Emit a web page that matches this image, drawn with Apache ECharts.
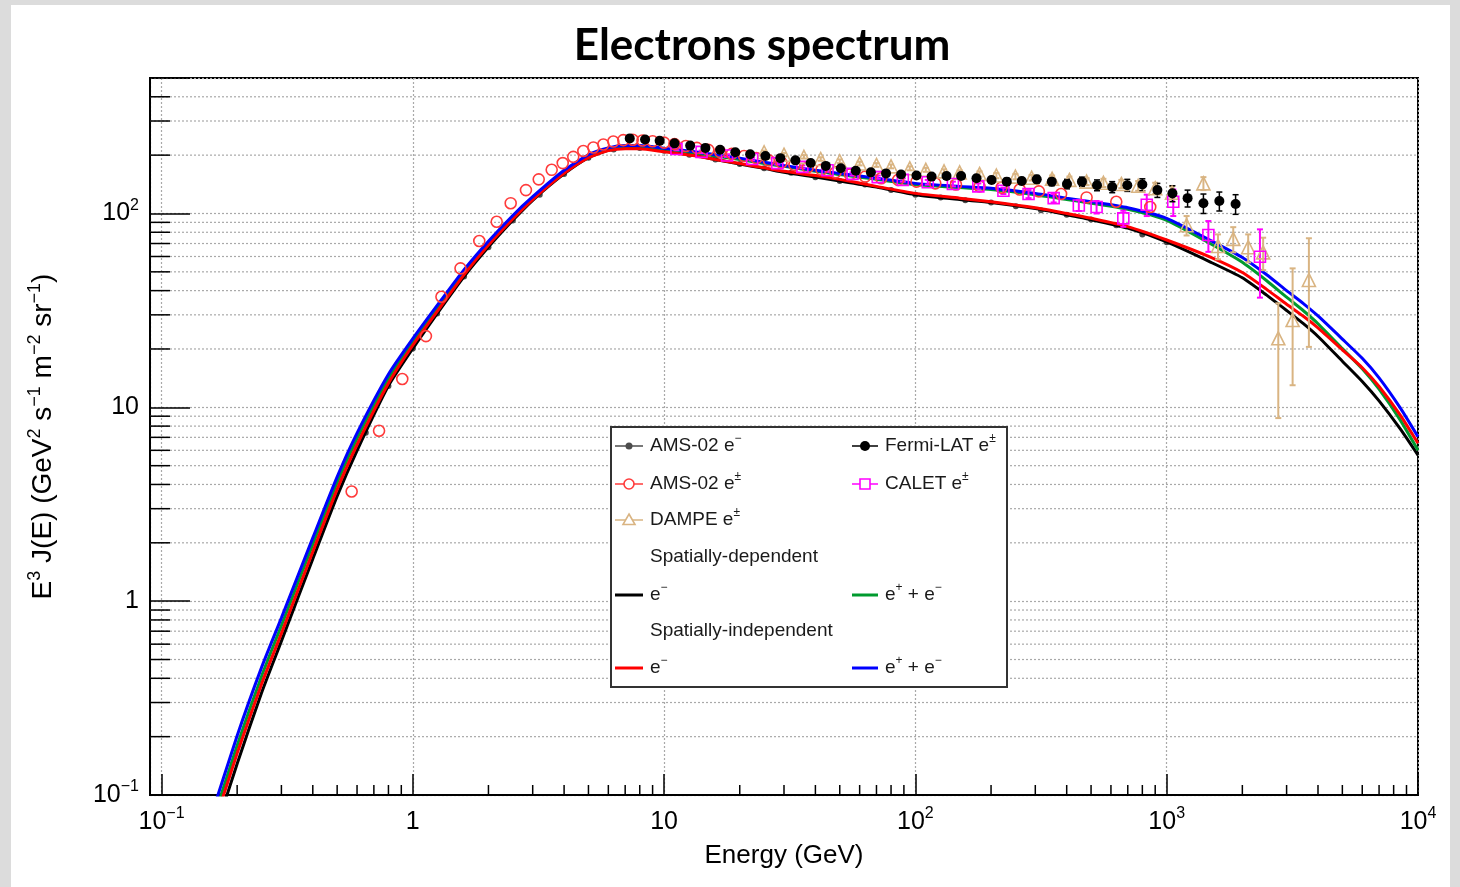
<!DOCTYPE html>
<html>
<head>
<meta charset="utf-8">
<script src="https://cdn.jsdelivr.net/npm/echarts@6.0.0/dist/echarts.min.js"></script>
<style>
html,body{margin:0;padding:0;width:1460px;height:887px;overflow:hidden;background:#dcdcdc}
#panel{position:absolute;left:11px;top:5px;width:1439px;height:882px;background:#fff}
#chart{position:absolute;left:0;top:0;width:1460px;height:887px}
</style>
</head>
<body>
<div id="panel"></div>
<div id="chart"></div>
<script>
// ---------------- DATA ----------------
const energyGrid = [0.15, 0.2, 0.25, 0.3, 0.4, 0.5, 0.6, 0.8, 1, 1.3, 1.6, 2, 2.5, 3, 4, 5, 6, 7, 8, 10, 13, 16, 20, 25, 30, 40, 50, 70, 100, 150, 200, 300, 400, 500, 700, 1000, 1500, 2000, 2500, 3000, 3500, 4000, 5000, 6000, 7000, 8500, 10000];
// Spatially-dependent e- (black)
const sdElectron = [0.0457, 0.145, 0.336, 0.622, 1.65, 3.48, 5.98, 12.9, 20.1, 32.7, 47.3, 67.1, 92.2, 117, 160, 194, 212, 218, 218, 210, 200, 190, 180, 171, 163, 154, 147, 137, 125, 118, 114, 106, 98.6, 93.0, 84.0, 71.3, 56.0, 46.6, 37.9, 31.6, 27.0, 23.2, 17.3, 13.6, 10.8, 7.74, 5.67];
// Spatially-dependent e+ + e- (green)
const sdTotal = [0.0568, 0.180, 0.409, 0.748, 1.96, 4.09, 6.90, 14.1, 21.8, 34.9, 50.0, 70.3, 95.9, 120, 165, 199, 216, 222, 222, 215, 206, 198, 190, 181, 175, 165, 159, 150, 141, 136, 133, 125, 118, 113, 105, 92.2, 69.6, 56.0, 45.0, 37.0, 31.5, 27.0, 20.1, 15.8, 12.4, 8.59, 6.01];
// Spatially-independent e- (red)
const siElectron = [0.0518, 0.164, 0.373, 0.682, 1.80, 3.77, 6.41, 13.3, 20.9, 33.5, 48.4, 68.7, 93.7, 118, 161, 194, 211, 216, 216, 208, 199, 190, 181, 172, 165, 157, 150, 138, 127, 120, 115, 107, 100, 94.5, 85.6, 73.0, 59.4, 49.6, 40.6, 34.0, 29.5, 25.7, 19.8, 16.0, 12.8, 9.11, 6.52];
// Spatially-independent e+ + e- (blue)
const siTotal = [0.0637, 0.202, 0.454, 0.820, 2.12, 4.38, 7.36, 14.8, 22.6, 35.9, 51.3, 71.9, 97.7, 122, 167, 201, 218, 224, 224, 217, 209, 201, 193, 184, 177, 167, 161, 152, 143, 138, 135, 127, 120, 115, 107, 94.4, 72.4, 59.3, 48.3, 40.0, 34.3, 29.6, 22.5, 17.9, 14.2, 9.94, 7.05];

// AMS-02 e-
const amsElE = [0.65, 0.8, 1.0, 1.25, 1.6, 2.0, 2.5, 3.2, 4.0, 5.0, 6.3, 8.0, 10, 12.6, 16, 20, 25, 32, 40, 50, 63, 80, 100, 126, 158, 200, 251, 316, 400, 500, 630, 800, 1000];
const amsElF = [7.4, 12.9, 20.1, 30.5, 47.3, 67, 92, 125, 160, 194, 214, 218, 211, 201, 190, 180, 171, 162, 154, 147, 141, 132, 125, 121, 117, 114, 109, 104, 98.6, 93, 87, 78, 71];

// AMS-02 e+-
const amsAllE = [0.571, 0.734, 0.908, 1.128, 1.30, 1.548, 1.839, 2.157, 2.452, 2.82, 3.17, 3.57, 3.95, 4.35, 4.77, 5.23, 5.73, 6.28, 6.88, 7.5, 8.2, 9.0, 10.0, 11.0, 12.2, 13.5, 15.0, 16.7, 18.6, 20.8, 23.3, 26.1, 29.3, 33.0, 37.3, 42.3, 48.1, 54.9, 63.1, 73.1, 85.4, 101, 120, 145, 180, 220, 260, 310, 380, 480, 630, 860];
const amsAllF = [3.68, 7.57, 14.0, 23.3, 37.2, 52.1, 72.1, 90.7, 113, 132, 150, 168, 182, 196, 210, 219, 227, 235, 239, 240, 238, 236, 232, 228, 223, 218, 213, 208, 203, 198, 193, 188, 183, 178, 173, 168, 163, 159, 155, 152, 149, 146, 143, 141, 138, 136, 133, 130, 126, 121, 115, 108];

// Fermi-LAT e+-
const fermiE = [7.3, 8.4, 9.6, 11.0, 12.7, 14.6, 16.7, 19.2, 22.0, 25.3, 29.0, 33.3, 38.3, 44.0, 50.5, 57.9, 66.5, 76.4, 87.7, 101, 116, 133, 152, 175, 201, 231, 265, 304, 349, 401, 460, 528, 607, 697, 800, 918, 1054, 1211, 1400, 1620, 1880];
const fermiF = [244, 241, 237, 230, 224, 218, 213, 207, 202, 198, 193, 188, 182, 176, 171, 166, 163, 161, 159, 157, 155, 156, 156, 152, 149, 146, 147, 150, 146, 142, 146, 140, 137, 140, 141, 132, 127, 120, 113, 116, 112];
const fermiErr = [5, 5, 5, 5, 4, 4, 4, 4, 4, 4, 4, 4, 4, 4, 4, 4, 4, 4, 4, 4, 5, 5, 5, 5, 6, 6, 6, 7, 7, 8, 8, 9, 9, 10, 10, 11, 12, 12, 13, 13, 13];

// CALET e+-
const caletE = [11.2, 14.1, 17.8, 22.4, 28.2, 35.5, 44.7, 56.2, 70.8, 89.1, 112, 141, 178, 224, 282, 355, 447, 526, 672, 833, 1062, 1465, 2350];
const caletF = [215, 208, 199, 191, 182, 174, 167, 160, 154, 149, 145, 142, 138, 131, 126, 120, 110, 108, 94.4, 111, 115, 77.4, 59.8];
const caletErr = [3, 3, 3, 3, 3, 3, 3, 3, 3, 3, 4, 4, 5, 5, 6, 6, 7, 8, 9, 14, 18, 14, 23];

// DAMPE e+-
const dampeE = [25, 30, 36, 42, 50, 60, 70, 80, 95, 110, 130, 150, 180, 210, 250, 290, 350, 410, 480, 560, 660, 770, 900, 1050, 1200, 1400, 1600, 1840, 2110, 2420, 2780, 3170, 3680];
const dampeF = [207, 201, 196, 191, 186, 181, 178, 175, 171, 168, 165, 163, 160, 157, 155, 153, 151, 149, 146, 144, 142, 139, 135, 128, 87, 143, 68, 74, 67, 63, 22.7, 28.2, 45.4];
const dampeErrLo = [4, 4, 4, 4, 4, 4, 4, 4, 4, 4, 4, 4, 5, 5, 5, 5, 6, 6, 6, 7, 7, 8, 9, 10, 10, 11, 10, 11, 11, 12, 13.9, 15.2, 24.9];
const dampeErrHi = [4, 4, 4, 4, 4, 4, 4, 4, 4, 4, 4, 4, 5, 5, 5, 5, 6, 6, 6, 7, 7, 8, 9, 10, 10, 11, 10, 11, 11, 12, 11.7, 23.9, 29.1];

// Axes
const xMin = 0.09, xMax = 10000, yMin = 0.1, yMax = 500;
const xTickValues = [0.1, 1, 10, 100, 1000, 10000];
const xTickLabels = ['{b|10}{s|−1}', '{b|1}', '{b|10}', '{b|10}{s|2}', '{b|10}{s|3}', '{b|10}{s|4}'];
const yTickValues = [0.1, 1, 10, 100];
const yTickLabels = ['{b|10}{s|−1}', '{b|1}', '{b|10}', '{b|10}{s|2}'];
const minorMultipliers = [2, 3, 4, 5, 6, 7, 8, 9];
const xDecades = [0.1, 1, 10, 100, 1000];
const yDecades = [0.1, 1, 10, 100];

// ---------------- CHART ----------------
const FONT = "'Liberation Sans', Arial, Helvetica, sans-serif";
const xMinorValues = [];
xDecades.forEach(d => minorMultipliers.forEach(m => xMinorValues.push(m * d)));
const yMinorValues = [];
yDecades.forEach(d => minorMultipliers.forEach(m => { if (m * d < yMax) yMinorValues.push(m * d); }));

function tickFormatter(values, labels) {
  return function (v) {
    for (let i = 0; i < values.length; i++) {
      if (Math.abs(Math.log10(v) - Math.log10(values[i])) < 1e-6) return labels[i];
    }
    return '';
  };
}

const labelRich = {
  b: { fontSize: 25, fontFamily: FONT, color: '#000', lineHeight: 32, verticalAlign: 'middle' },
  s: { fontSize: 16, fontFamily: FONT, color: '#000', lineHeight: 32, verticalAlign: 'top' }
};
const nameRich = {
  b: { fontSize: 28, fontFamily: FONT, color: '#000', lineHeight: 34, verticalAlign: 'middle' },
  s: { fontSize: 18, fontFamily: FONT, color: '#000', lineHeight: 34, verticalAlign: 'top' }
};

const GRID_COLOR = '#a9a9a9';

function curve(name, values, color) {
  return {
    type: 'line', name, data: energyGrid.map((e, i) => [e, values[i]]),
    showSymbol: false, symbol: 'none', smooth: 0.2, clip: true,
    lineStyle: { color, width: 3 }, itemStyle: { color }, silent: true, z: 3
  };
}

function errorBars(name, E, F, lo, hi, color, cap, width) {
  return {
    type: 'custom', name, silent: true, clip: true, z: 4,
    data: E.map((e, i) => [e, F[i] - lo[i], F[i] + hi[i]]),
    encode: { x: 0, y: [1, 2] },
    renderItem(params, api) {
      const a = api.coord([api.value(0), api.value(1)]);
      const b = api.coord([api.value(0), api.value(2)]);
      const st = { stroke: color, lineWidth: width };
      return {
        type: 'group', children: [
          { type: 'line', shape: { x1: a[0], y1: a[1], x2: b[0], y2: b[1] }, style: st },
          { type: 'line', shape: { x1: a[0] - cap, y1: a[1], x2: a[0] + cap, y2: a[1] }, style: st },
          { type: 'line', shape: { x1: b[0] - cap, y1: b[1], x2: b[0] + cap, y2: b[1] }, style: st }
        ]
      };
    }
  };
}

function points(name, E, F, symbol, size, fill, stroke, bw, z) {
  return {
    type: 'scatter', name, data: E.map((e, i) => [e, F[i]]), symbol, symbolSize: size, clip: true, z: z || 5,
    itemStyle: { color: fill, borderColor: stroke, borderWidth: bw, opacity: 1 }, silent: true
  };
}

const series = [
  { // horizontal minor grid + minor ticks on y
    type: 'custom', silent: true, z: 1,
    data: yMinorValues.map(v => [1, v]),
    renderItem(params, api) {
      const cs = params.coordSys;
      const y = api.coord([1, api.value(1)])[1];
      return {
        type: 'group', children: [
          { type: 'line', shape: { x1: cs.x, y1: y, x2: cs.x + cs.width, y2: y }, style: { stroke: GRID_COLOR, lineWidth: 1.2, lineDash: [2, 2] } },
          { type: 'line', shape: { x1: cs.x, y1: y, x2: cs.x + 20, y2: y }, style: { stroke: '#000', lineWidth: 1.5 } }
        ]
      };
    }
  },
  { // minor ticks on x
    type: 'custom', silent: true, z: 1,
    data: xMinorValues.map(v => [v, 1]),
    renderItem(params, api) {
      const cs = params.coordSys;
      const x = api.coord([api.value(0), 1])[0];
      const yb = cs.y + cs.height;
      return { type: 'line', shape: { x1: x, y1: yb, x2: x, y2: yb - 10 }, style: { stroke: '#000', lineWidth: 1.5 } };
    }
  },
  points('AMS-02 e-', amsElE, amsElF, 'circle', 6, '#4d4d4d', '#4d4d4d', 0, 2),
  curve('Spatially-dependent e-', sdElectron, '#000000'),
  curve('Spatially-dependent e+ + e-', sdTotal, '#009a2e'),
  curve('Spatially-independent e-', siElectron, '#ff0000'),
  curve('Spatially-independent e+ + e-', siTotal, '#0000ff'),
  points('AMS-02 e±', amsAllE, amsAllF, 'circle', 11, 'rgba(0,0,0,0)', '#ff3b3b', 1.6),
  errorBars('DAMPE err', dampeE, dampeF, dampeErrLo, dampeErrHi, '#d9b482', 3, 2),
  points('DAMPE e±', dampeE, dampeF, 'triangle', 13, 'rgba(0,0,0,0)', '#d9b482', 1.6),
  errorBars('CALET err', caletE, caletF, caletErr, caletErr, '#ff00ff', 3, 2),
  points('CALET e±', caletE, caletF, 'rect', 11, 'rgba(0,0,0,0)', '#ff00ff', 1.6),
  errorBars('Fermi err', fermiE, fermiF, fermiErr, fermiErr, '#000000', 3, 1.5),
  points('Fermi-LAT e±', fermiE, fermiF, 'circle', 10, '#000000', '#000000', 0)
];

// ---------------- LEGEND (graphic) ----------------
const legRich = {
  t: { fontSize: 19, fontFamily: FONT, fill: '#1a1a1a', color: '#1a1a1a', lineHeight: 26, verticalAlign: 'middle' },
  s: { fontSize: 12, fontFamily: FONT, fill: '#1a1a1a', color: '#1a1a1a', lineHeight: 26, verticalAlign: 'top' }
};
const rows = [446, 484, 520, 557, 595, 631, 668];
const colL = { x1: 615, x2: 643, cx: 629, tx: 650 };
const colR = { x1: 852, x2: 878, cx: 865, tx: 885 };
const legendEntries = [
  { col: colL, row: 0, text: '{t|AMS-02 e}{s|−}', line: '#4d4d4d', marker: 'dot', mcolor: '#4d4d4d', r: 3.5 },
  { col: colR, row: 0, text: '{t|Fermi-LAT e}{s|±}', line: '#000', marker: 'dot', mcolor: '#000', r: 5 },
  { col: colL, row: 1, text: '{t|AMS-02 e}{s|±}', line: '#ff3b3b', marker: 'ocircle', mcolor: '#ff3b3b', r: 5 },
  { col: colR, row: 1, text: '{t|CALET e}{s|±}', line: '#ff00ff', marker: 'osquare', mcolor: '#ff00ff', r: 5 },
  { col: colL, row: 2, text: '{t|DAMPE e}{s|±}', line: '#d9b482', marker: 'otri', mcolor: '#d9b482', r: 6 },
  { col: colL, row: 3, text: '{t|Spatially-dependent}' },
  { col: colL, row: 4, text: '{t|e}{s|−}', line: '#000', lw: 3 },
  { col: colR, row: 4, text: '{t|e}{s|+}{t| + e}{s|−}', line: '#009a2e', lw: 3 },
  { col: colL, row: 5, text: '{t|Spatially-independent}' },
  { col: colL, row: 6, text: '{t|e}{s|−}', line: '#ff0000', lw: 3 },
  { col: colR, row: 6, text: '{t|e}{s|+}{t| + e}{s|−}', line: '#0000ff', lw: 3 }
];
const graphics = [
  { type: 'text', x: 762, y: 46, z: 100, style: { text: 'Electrons spectrum', font: "bold 44px Lato, 'Open Sans', sans-serif", fill: '#000', align: 'center', verticalAlign: 'middle' } },
  { type: 'rect', shape: { x: 611, y: 427, width: 396, height: 260 }, z: 100, style: { fill: '#fff', stroke: '#333', lineWidth: 2 } }
];
legendEntries.forEach(en => {
  const y = rows[en.row];
  if (en.line) {
    graphics.push({ type: 'line', z: 101, shape: { x1: en.col.x1, y1: y, x2: en.col.x2, y2: y }, style: { stroke: en.line, lineWidth: en.lw || 1.5 } });
  }
  if (en.marker === 'dot') {
    graphics.push({ type: 'circle', z: 102, shape: { cx: en.col.cx, cy: y, r: en.r }, style: { fill: en.mcolor } });
  } else if (en.marker === 'ocircle') {
    graphics.push({ type: 'circle', z: 102, shape: { cx: en.col.cx, cy: y, r: en.r }, style: { fill: '#fff', stroke: en.mcolor, lineWidth: 1.6 } });
  } else if (en.marker === 'osquare') {
    graphics.push({ type: 'rect', z: 102, shape: { x: en.col.cx - en.r, y: y - en.r, width: 2 * en.r, height: 2 * en.r }, style: { fill: '#fff', stroke: en.mcolor, lineWidth: 1.6 } });
  } else if (en.marker === 'otri') {
    graphics.push({ type: 'polygon', z: 102, shape: { points: [[en.col.cx, y - en.r], [en.col.cx + en.r, y + en.r * 0.75], [en.col.cx - en.r, y + en.r * 0.75]] }, style: { fill: '#fff', stroke: en.mcolor, lineWidth: 1.6 } });
  }
  graphics.push({ type: 'text', z: 102, x: en.col.tx, y: y, style: { text: en.text, rich: legRich, align: 'left', verticalAlign: 'middle' } });
});

const option = {
  animation: false,
  backgroundColor: 'transparent',
  grid: { left: 150, top: 78, right: 42, bottom: 92, show: true, borderColor: '#000', borderWidth: 2, backgroundColor: 'transparent', outerBoundsMode: 'none', containLabel: false },
  xAxis: {
    type: 'log', logBase: 10, min: xMin, max: xMax,
    name: 'Energy (GeV)', nameLocation: 'middle', nameGap: 30,
    nameTextStyle: { fontSize: 26, fontFamily: FONT, color: '#000', lineHeight: 32 },
    axisLine: { show: true, lineStyle: { color: '#000', width: 2 } },
    axisTick: { show: true, inside: true, length: 21, lineStyle: { color: '#000', width: 1.5 } },
    minorTick: { show: false },
    axisLabel: { formatter: tickFormatter(xTickValues, xTickLabels), rich: labelRich, margin: 11, showMinLabel: true, hideOverlap: false },
    splitLine: { show: true, lineStyle: { color: GRID_COLOR, width: 1.2, type: [2, 2] } }
  },
  yAxis: {
    type: 'log', logBase: 10, min: yMin, max: yMax,
    name: '{b|E}{s|3}{b| J(E) (GeV}{s|2}{b| s}{s|−1}{b| m}{s|−2}{b| sr}{s|−1}{b|)}',
    nameLocation: 'middle', nameGap: 90, nameRotate: 90,
    nameTextStyle: { rich: nameRich },
    axisLine: { show: true, lineStyle: { color: '#000', width: 2 } },
    axisTick: { show: true, inside: true, length: 40, lineStyle: { color: '#000', width: 1.5 } },
    minorTick: { show: false },
    axisLabel: { formatter: tickFormatter(yTickValues, yTickLabels), rich: labelRich, margin: 11, hideOverlap: false },
    splitLine: { show: true, lineStyle: { color: GRID_COLOR, width: 1.2, type: [2, 2] } }
  },
  series,
  graphic: graphics
};

const chart = echarts.init(document.getElementById('chart'), null, { renderer: 'canvas', width: 1460, height: 887 });
chart.setOption(option);
</script>
</body>
</html>
